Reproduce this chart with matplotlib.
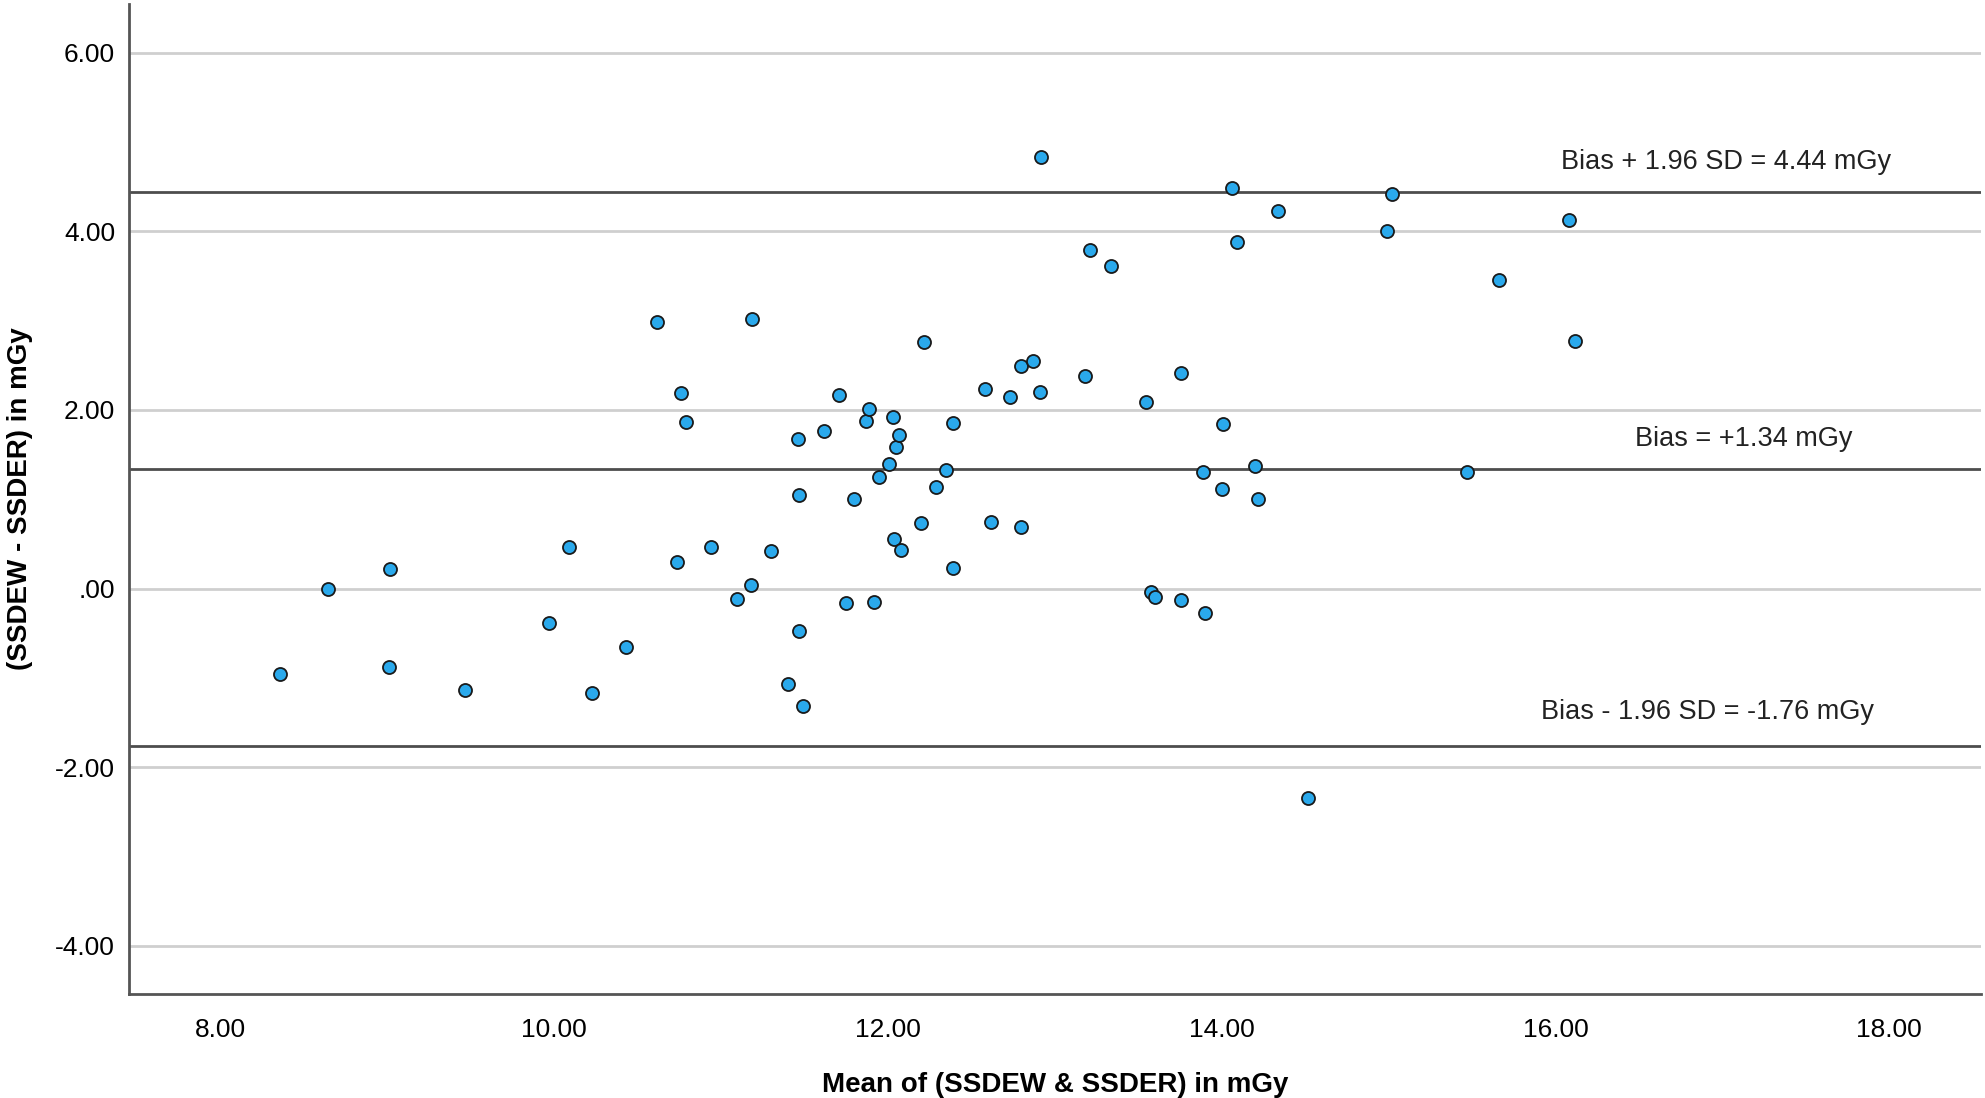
import matplotlib.pyplot as plt

# ------------------------------------------
# Data
# ------------------------------------------

mean_vals = [8.36, 8.65, 9.01, 9.02, 9.47, 9.97, 10.09, 10.23, 10.43, 10.62,
             10.74, 10.76, 10.79, 10.94, 11.10, 11.18, 11.19, 11.30, 11.40, 11.46,
             11.47, 11.47, 11.49, 11.62, 11.71, 11.75, 11.80, 11.87, 11.89, 11.92,
             11.95, 12.01, 12.03, 12.04, 12.05, 12.07, 12.08, 12.20, 12.22, 12.29,
             12.35, 12.39, 12.39, 12.58, 12.62, 12.73, 12.80, 12.80, 12.87, 12.91,
             12.92, 13.18, 13.21, 13.34, 13.55, 13.58, 13.60, 13.76, 13.76, 13.89,
             13.90, 14.01, 14.00, 14.06, 14.09, 14.20, 14.22, 14.34, 14.52, 14.99,
             15.02, 15.47, 15.66, 16.08, 16.12]

diff_vals = [-0.96, -0.01, -0.88, 0.22, -1.14, -0.39, 0.46, -1.17, -0.65, 2.98,
             0.30, 2.19, 1.87, 0.46, -0.12, 0.04, 3.02, 0.42, -1.07, 1.68,
             1.05, -0.48, -1.31, 1.77, 2.17, -0.16, 1.00, 1.88, 2.01, -0.15,
             1.25, 1.40, 1.92, 0.56, 1.59, 1.72, 0.43, 0.73, 2.76, 1.14,
             1.33, 1.85, 0.23, 2.24, 0.74, 2.14, 2.49, 0.69, 2.55, 2.20,
             4.83, 2.38, 3.79, 3.61, 2.09, -0.04, -0.09, 2.41, -0.13, 1.31,
             -0.27, 1.84, 1.12, 4.48, 3.88, 1.37, 1.00, 4.23, -2.35, 4.00,
             4.42, 1.30, 3.46, 4.13, 2.77]

bias = 1.34
upper_loa = 4.44
lower_loa = -1.76

line_labels = ["Bias + 1.96 SD = 4.44 mGy", "Bias = +1.34 mGy", "Bias - 1.96 SD = -1.76 mGy"]

y_ticks = [-4, -2, 0, 2, 4, 6]
y_tick_labels = ["-4.00", "-2.00", ".00", "2.00", "4.00", "6.00"]
x_ticks = [8, 10, 12, 14, 16, 18]
x_tick_labels = ["8.00", "10.00", "12.00", "14.00", "16.00", "18.00"]

# ------------------------------------------
# Figure
# ------------------------------------------

plt.rcParams['font.family'] = ['Liberation Sans', 'DejaVu Sans']

fig = plt.figure(figsize=(19.85, 10.98), dpi=100)
ax = fig.add_axes([0.065, 0.0947, 0.933, 0.902])

# grid lines
for t in y_ticks:
    ax.axhline(t, color='#cfcfcf', linewidth=2.0, zorder=1)

# bias and limits of agreement
for v in [upper_loa, bias, lower_loa]:
    ax.axhline(v, color='#4d4d4d', linewidth=2.0, zorder=2)

ax.scatter(mean_vals, diff_vals, s=88, facecolor='#2aa9ec', edgecolor='#1a1a1a',
           linewidth=1.3, zorder=3)

ax.text(17.02, 4.78, line_labels[0], fontsize=19.5, ha='center', va='center', color='#222222')
ax.text(17.13, 1.67, line_labels[1], fontsize=19.5, ha='center', va='center', color='#222222')
ax.text(16.91, -1.38, line_labels[2], fontsize=19.5, ha='center', va='center', color='#222222')

ax.set_xlim(7.455, 18.55)
ax.set_ylim(-4.54, 6.55)

ax.set_xticks(x_ticks)
ax.set_xticklabels(x_tick_labels, fontsize=19)
ax.set_yticks(y_ticks)
ax.set_yticklabels(y_tick_labels, fontsize=19)
ax.tick_params(axis='both', length=0)
ax.tick_params(axis='x', pad=17)
ax.tick_params(axis='y', pad=10)

for side in ['top', 'right']:
    ax.spines[side].set_visible(False)
for side in ['left', 'bottom']:
    ax.spines[side].set_color('#555555')
    ax.spines[side].set_linewidth(2.0)

ax.set_xlabel("Mean of (SSDEW & SSDER) in mGy", fontsize=20, fontweight='bold', labelpad=22)
ax.set_ylabel("(SSDEW - SSDER) in mGy", fontsize=20, fontweight='bold', labelpad=16)

fig.savefig("out.png", dpi=100)
